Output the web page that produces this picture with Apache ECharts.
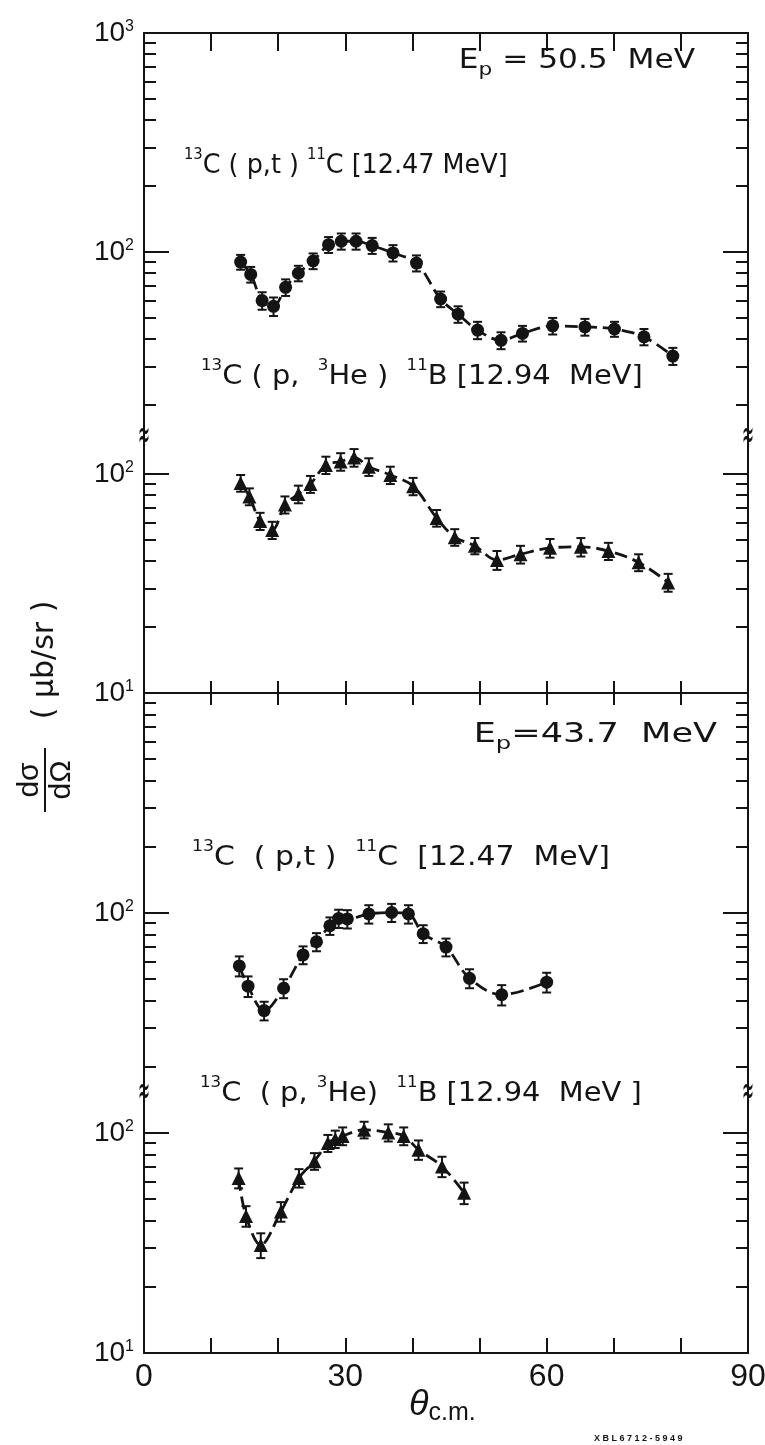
<!DOCTYPE html>
<html>
<head>
<meta charset="utf-8">
<title>13C(p,t)11C and 13C(p,3He)11B angular distributions</title>
<script src="https://cdn.jsdelivr.net/npm/echarts@6/dist/echarts.min.js"></script>
<style>
    html, body { margin: 0; padding: 0; background: #fff; }
    #chart { width: 765px; height: 1445px; }
</style>
</head>
<body>
<div id="chart"></div>
<script>
// theta c.m. (deg), dsigma/dOmega (microbarn/sr), error (microbarn/sr)

// Ep = 50.5 MeV, 13C(p,t)11C [12.47 MeV]
var pt50Angle = [14.4, 15.9, 17.6, 19.3, 21.1, 23.0, 25.2, 27.5, 29.4, 31.6, 34.0, 37.1, 40.6, 44.2, 46.8, 49.7, 53.2, 56.4, 60.9, 65.7, 70.1, 74.5, 78.8];
var pt50Sigma = [90, 79, 60, 56.5, 69, 80, 91, 108, 112, 112, 107, 99, 89, 61, 52, 44, 39.5, 42.5, 46, 45.5, 44.5, 41, 33.5];
var pt50Error = [7, 6.5, 5.5, 5.5, 6, 6.5, 7.5, 9, 9.5, 9.5, 9, 8.5, 7.5, 5, 4.5, 4, 3.5, 3.5, 4, 4, 3.5, 3.5, 3];

// Ep = 50.5 MeV, 13C(p,3He)11B [12.94 MeV]
var phe50Angle = [14.4, 15.7, 17.3, 19.1, 21.0, 23.0, 24.8, 27.1, 29.3, 31.3, 33.5, 36.7, 40.1, 43.6, 46.3, 49.3, 52.6, 56.1, 60.5, 65.1, 69.2, 73.7, 78.1];
var phe50Sigma = [91, 79, 61, 55.5, 72.5, 81, 90, 110, 114, 119, 108, 99, 88, 63, 51.5, 47, 40.5, 43, 46, 46.5, 44.5, 39.5, 32];
var phe50Error = [8, 7, 5.5, 5, 6.5, 7.5, 8, 10, 10.5, 11, 10, 9, 8, 5.5, 4.5, 4, 4, 4, 4.5, 4.5, 4, 3.5, 3];

// Ep = 43.7 MeV, 13C(p,t)11C [12.47 MeV]
var pt43Angle = [14.2, 15.5, 17.9, 20.8, 23.7, 25.7, 27.7, 29.0, 30.3, 33.5, 36.9, 39.4, 41.6, 45.0, 48.5, 53.3, 60.0];
var pt43Sigma = [57.5, 46.5, 36, 45.5, 64.5, 74, 87.5, 94.5, 94, 99, 100.5, 99, 80.5, 70, 50.5, 42.5, 48.5];
var pt43Error = [6, 5, 3.5, 4.5, 6, 7, 8, 9, 9, 9.5, 9.5, 9.5, 7.5, 6.5, 5, 4.5, 5];

// Ep = 43.7 MeV, 13C(p,3He)11B [12.94 MeV]
var phe43Angle = [14.1, 15.2, 17.4, 20.4, 23.1, 25.4, 27.4, 28.5, 29.6, 32.8, 36.4, 38.7, 40.9, 44.4, 47.7];
var phe43Sigma = [62.5, 42, 31, 44, 62.5, 74.5, 90, 94, 97, 103.5, 100.5, 97, 84, 70.5, 53.5];
var phe43Error = [6.5, 4.5, 4, 4.5, 6, 6.5, 8, 8.5, 9, 9, 9, 9, 8.5, 7.5, 6];

// axis ticks
var thetaLabels = [0, 30, 60, 90];
var minorTens = [20, 30, 40, 50, 60, 70, 80, 90];
var minorHundreds = [200, 300, 400, 500, 600, 700, 800, 900];

var ink = '#141414';
var font = '"Liberation Sans", Arial, sans-serif';
var noteFont = '"DejaVu Sans", sans-serif';

// each panel is split in two log sub-plots at the break mark
var panels = [
    {top: 33, height: 404, min: 14.3, max: 1000, xPos: 'top', xTick: 18,
        majors: [100, 1000], minors: minorTens.concat(minorHundreds), labels: [1000, 100]},
    {top: 437, height: 256, min: 10, max: 147.6, xPos: 'bottom', xTick: 12,
        majors: [10, 100], minors: minorTens, labels: [100, 10]},
    {top: 693, height: 400, min: 15.2, max: 1000, xPos: 'top', xTick: 12,
        majors: [100, 1000], minors: minorTens.concat(minorHundreds), labels: [100]},
    {top: 1093, height: 260, min: 10, max: 152, xPos: 'bottom', xTick: 15,
        majors: [10, 100], minors: minorTens, labels: [100, 10], xLabels: true}
];

var grids = [], xAxes = [], yAxes = [];
panels.forEach(function (p, g) {
    grids.push({left: 144, right: 17, top: p.top, height: p.height,
        containLabel: false, outerBoundsMode: 'none'});
    xAxes.push({
        type: 'value', gridIndex: g, position: p.xPos, min: 0, max: 90, interval: 10,
        axisLine: {show: true, lineStyle: {color: ink, width: 2}},
        axisTick: {show: true, inside: true, length: p.xTick, lineStyle: {color: ink, width: 2}},
        axisLabel: {
            show: !!p.xLabels, customValues: thetaLabels, margin: 8,
            fontSize: 32, fontFamily: font, color: ink
        },
        splitLine: {show: false}
    });
    ['left', 'right'].forEach(function (side) {
        yAxes.push({
            type: 'log', logBase: 10, gridIndex: g, position: side, min: p.min, max: p.max,
            axisLine: {show: true, lineStyle: {color: ink, width: 2}},
            axisTick: {show: true, inside: true, length: 25, customValues: p.majors,
                lineStyle: {color: ink, width: 2}},
            axisLabel: {
                show: side === 'left', customValues: p.labels, margin: 10,
                formatter: function (v) {
                    return '{m|10}{e|' + Math.round(Math.log10(v)) + '}';
                },
                rich: {
                    m: {fontSize: 28, fontFamily: font, color: ink},
                    e: {fontSize: 16, fontFamily: font, color: ink, verticalAlign: 'top'}
                }
            },
            splitLine: {show: false}
        });
        yAxes.push({
            type: 'log', logBase: 10, gridIndex: g, position: side, min: p.min, max: p.max,
            axisLine: {show: false},
            axisTick: {show: true, inside: true, length: 12, customValues: p.minors,
                lineStyle: {color: ink, width: 2}},
            axisLabel: {show: false},
            splitLine: {show: false}
        });
    });
});

function pairs(xs, ys) {
    return xs.map(function (x, i) { return [x, ys[i]]; });
}

function curve(g, angles, sigmas, symbol) {
    return {
        type: 'line', xAxisIndex: g, yAxisIndex: g * 4,
        data: pairs(angles, sigmas),
        smooth: 0.35, symbol: symbol, symbolSize: symbol === 'triangle' ? 14 : 13,
        showSymbol: true,
        itemStyle: {color: ink},
        lineStyle: {color: ink, width: 2.8, type: [13, 6]},
        z: 3
    };
}

function errorBars(g, angles, sigmas, errs) {
    return {
        type: 'custom', xAxisIndex: g, yAxisIndex: g * 4,
        data: angles.map(function (a, i) { return [a, sigmas[i] - errs[i], sigmas[i] + errs[i]]; }),
        encode: {x: 0, y: [1, 2]},
        z: 4,
        renderItem: function (params, api) {
            var lo = api.coord([api.value(0), api.value(1)]);
            var hi = api.coord([api.value(0), api.value(2)]);
            var w = 4.5;
            var st = {stroke: ink, lineWidth: 2};
            return {
                type: 'group',
                children: [
                    {type: 'line', shape: {x1: lo[0], y1: lo[1], x2: hi[0], y2: hi[1]}, style: st},
                    {type: 'line', shape: {x1: lo[0] - w, y1: lo[1], x2: lo[0] + w, y2: lo[1]}, style: st},
                    {type: 'line', shape: {x1: hi[0] - w, y1: hi[1], x2: hi[0] + w, y2: hi[1]}, style: st}
                ]
            };
        }
    };
}

var richText = {
    n: {fontSize: 26, fontFamily: noteFont, fill: ink, lineHeight: 36},
    s: {fontSize: 15, fontFamily: noteFont, fill: ink, verticalAlign: 'top', lineHeight: 15},
    b: {fontSize: 18, fontFamily: noteFont, fill: ink, verticalAlign: 'bottom', lineHeight: 18}
};

// hand lettering in the original is wide, so the notes are stretched horizontally
function note(x, y, text, stretch, align) {
    return {
        type: 'text', x: x, y: y, scaleX: stretch, silent: true,
        style: {text: text, rich: richText, fill: ink, align: align || 'left', verticalAlign: 'middle'}
    };
}

function breakMark(x, y) {
    return {
        type: 'text', x: x, y: y, scaleX: 0.55, scaleY: 1.6, silent: true, z: 10,
        style: {text: '≈', fontSize: 26, fontFamily: noteFont, fill: ink, align: 'center', verticalAlign: 'middle'}
    };
}

var chart = echarts.init(document.getElementById('chart'));
chart.setOption({
    animation: false,
    backgroundColor: '#fff',
    grid: grids,
    xAxis: xAxes,
    yAxis: yAxes,
    series: [
        curve(0, pt50Angle, pt50Sigma, 'circle'),
        errorBars(0, pt50Angle, pt50Sigma, pt50Error),
        curve(1, phe50Angle, phe50Sigma, 'triangle'),
        errorBars(1, phe50Angle, phe50Sigma, phe50Error),
        curve(2, pt43Angle, pt43Sigma, 'circle'),
        errorBars(2, pt43Angle, pt43Sigma, pt43Error),
        curve(3, phe43Angle, phe43Sigma, 'triangle'),
        errorBars(3, phe43Angle, phe43Sigma, phe43Error)
    ],
    graphic: [
        note(695, 61, '{n|E}{b|p}{n| = 50.5  MeV}', 1.2, 'right'),
        note(184, 166, '{s|13}{n|C ( p,t ) }{s|11}{n|C [12.47 MeV]}', 0.98),
        note(201, 377, '{s|13}{n|C ( p,  }{s|3}{n|He )  }{s|11}{n|B [12.94  MeV]}', 1.11),
        note(717, 735, '{n|E}{b|p}{n|=43.7  MeV}', 1.35, 'right'),
        note(192, 858, '{s|13}{n|C  ( p,t )  }{s|11}{n|C  [12.47  MeV]}', 1.15),
        note(200, 1094, '{s|13}{n|C  ( p, }{s|3}{n|He)  }{s|11}{n|B [12.94  MeV ]}', 1.11),
        breakMark(144, 437), breakMark(748, 437),
        breakMark(144, 1093), breakMark(748, 1093),
        {
            type: 'group', x: 45, y: 780, rotation: Math.PI / 2, silent: true,
            children: [
                {type: 'text', x: 0, y: -15, style: {text: 'dσ', fontSize: 30, fontFamily: font, fill: ink, align: 'center', verticalAlign: 'middle'}},
                {type: 'line', shape: {x1: -32, y1: 0, x2: 32, y2: 0}, style: {stroke: ink, lineWidth: 2}},
                {type: 'text', x: 0, y: 17, style: {text: 'dΩ', fontSize: 30, fontFamily: font, fill: ink, align: 'center', verticalAlign: 'middle'}},
                {type: 'text', x: 120, y: 0, style: {text: '( μb/sr )', fontSize: 30, fontFamily: noteFont, fill: ink, align: 'center', verticalAlign: 'middle'}}
            ]
        },
        {
            type: 'text', x: 409, y: 1405, silent: true,
            style: {
                text: '{t|θ}{c|c.m.}', verticalAlign: 'middle',
                rich: {
                    t: {fontSize: 36, fontFamily: font, fontStyle: 'italic', fill: ink, lineHeight: 42},
                    c: {fontSize: 25, fontFamily: font, fill: ink, verticalAlign: 'bottom', lineHeight: 24}
                }
            }
        },
        {
            type: 'text', x: 594, y: 1439, silent: true,
            style: {text: 'X B L 6 7 1 2 - 5 9 4 9', fontSize: 9, fontWeight: 'bold', fontFamily: font, fill: ink, verticalAlign: 'middle'}
        }
    ]
});
</script>
</body>
</html>
